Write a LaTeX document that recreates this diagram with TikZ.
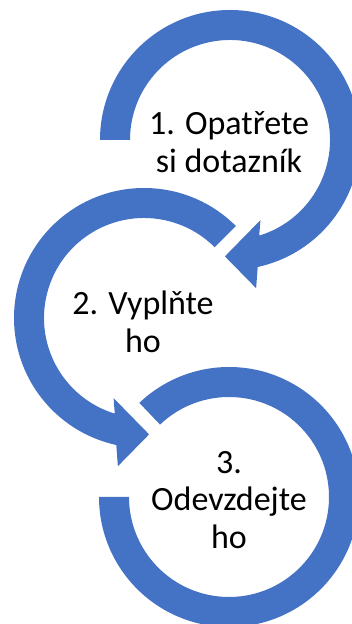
\documentclass[tikz,border=0pt]{standalone}
\usepackage{fontspec}
\setmainfont{Carlito}
\definecolor{ringblue}{HTML}{4472C4}
\begin{document}
\begin{tikzpicture}[x=1pt,y=1pt,
  lbl/.style={align=center,font=\fontsize{34}{37.5}\selectfont,inner sep=0pt}]
\useasboundingbox (0,0) rectangle (351,624);
\coordinate (c1) at (230,484);
\coordinate (c2) at (144,306);
\coordinate (c3) at (229,127);

% first ring, clockwise, head at the bottom
\begin{scope}[shift={(c1)}]
\fill[ringblue] (180:130) arc[start angle=180,end angle=-77.7,radius=130]
  -- (-80:150.5) -- (-92.5:116.5) -- (-69.2:85.7) -- (-73:100)
  arc[start angle=-73,end angle=180,radius=100] -- cycle;
\end{scope}

% second ring, counterclockwise
\begin{scope}[shift={(c2)}]
\fill[ringblue] (45:130) arc[start angle=45,end angle=257.7,radius=130]
  -- (260:150.5) -- (272.5:116.5) -- (249.2:85.7) -- (253:100)
  arc[start angle=253,end angle=45,radius=100] -- cycle;
\end{scope}

% last ring, no head
\begin{scope}[shift={(c3)}]
\fill[ringblue] (180:130) arc[start angle=180,end angle=493.6,radius=130]
  -- (493.6:100) arc[start angle=493.6,end angle=180,radius=100] -- cycle;
\end{scope}

\node[lbl] (opatrete) at (229,482) {1. Opatřete\\si dotazník};
\node[lbl] (vyplnte) at (143,302) {2. Vyplňte\\ho};
\node[lbl] (odevzdejte) at (229,124) {3.\\Odevzdejte\\ho};
\end{tikzpicture}
\end{document}
